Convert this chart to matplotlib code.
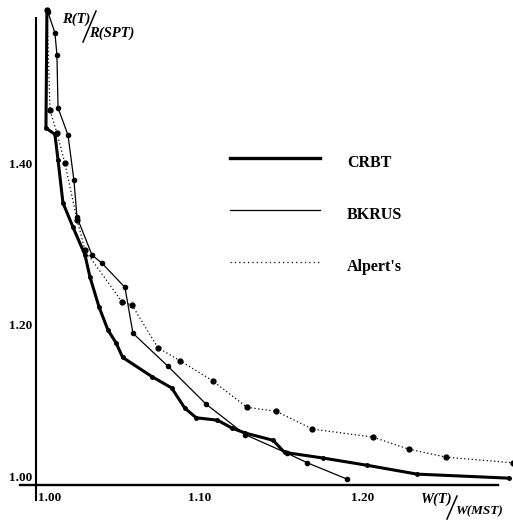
import matplotlib
matplotlib.use("Agg")
import matplotlib.pyplot as plt

# W(T)/W(MST) vs R(T)/R(SPT) for the three heuristics
crbt_x = [1.0067, 1.0061, 1.0116, 1.0135, 1.0165, 1.0226, 1.0300, 1.0330, 1.0385,
          1.0440, 1.0490, 1.0530, 1.0710, 1.0830, 1.0910, 1.0980, 1.1110, 1.1200,
          1.1280, 1.1450, 1.1520, 1.1755, 1.2024, 1.2330, 1.2890]
crbt_y = [1.593, 1.446, 1.438, 1.406, 1.353, 1.323, 1.288, 1.261, 1.224,
          1.195, 1.179, 1.161, 1.137, 1.123, 1.098, 1.086, 1.083, 1.073,
          1.067, 1.058, 1.043, 1.036, 1.027, 1.016, 1.011]

bkrus_x = [1.0073, 1.0116, 1.0128, 1.0135, 1.0196, 1.0232, 1.0251, 1.0343, 1.0404,
           1.0544, 1.0593, 1.0807, 1.1040, 1.1280, 1.1535, 1.1660, 1.1900]
bkrus_y = [1.590, 1.564, 1.537, 1.471, 1.437, 1.381, 1.335, 1.288, 1.278,
           1.248, 1.191, 1.150, 1.103, 1.065, 1.042, 1.030, 1.010]

alpert_x = [1.0067, 1.0086, 1.0128, 1.0177, 1.0251, 1.0300, 1.0526, 1.0587, 1.0746,
            1.0880, 1.1080, 1.1290, 1.1470, 1.1690, 1.2060, 1.2280, 1.2510, 1.2920]
alpert_y = [1.593, 1.468, 1.440, 1.402, 1.332, 1.294, 1.230, 1.226, 1.173,
            1.157, 1.132, 1.099, 1.094, 1.072, 1.062, 1.047, 1.037, 1.030]

labels = ["CRBT", "BKRUS", "Alpert's"]
xticks = [1.00, 1.10, 1.20]
yticks = [1.00, 1.20, 1.40]

serif = "Liberation Serif"
W, H = 513, 520

fig = plt.figure(figsize=(5.13, 5.20), dpi=100)
ax = fig.add_axes([0, 0, 1, 1])
ax.set_xlim(0.978, 1.2917)
ax.set_ylim(0.959, 1.605)

ax.plot(crbt_x, crbt_y, color="black", lw=2.2, marker="o", ms=2.5)
ax.plot(bkrus_x, bkrus_y, color="black", lw=0.9, marker="o", ms=3)
ax.plot(alpert_x, alpert_y, color="black", lw=0.9, ls=(0, (1, 2)), marker="o", ms=3.5)

# axes drawn as crossing lines
for s in ["top", "right"]:
    ax.spines[s].set_visible(False)
ax.spines["left"].set_position(("data", 1.0))
ax.spines["left"].set_bounds(0.984, 1.583)
ax.spines["left"].set_linewidth(1.5)
ax.spines["bottom"].set_position(("data", 1.002))
ax.spines["bottom"].set_bounds(0.990, 1.2826)
ax.spines["bottom"].set_linewidth(1.7)
ax.set_xticks([])
ax.set_yticks([])

tick_font = dict(family=serif, weight="bold", fontsize=9.5)
for i, v in enumerate(xticks):
    if i == 0:
        ax.annotate("%.2f" % v, xy=(v, 1.0), xytext=(1.5, -8), textcoords="offset points",
                    ha="left", va="center", **tick_font)
    else:
        ax.annotate("%.2f" % v, xy=(v, 1.0), xytext=(0, -8), textcoords="offset points",
                    ha="center", va="center", **tick_font)
for i, v in enumerate(yticks):
    dy = 6.5 if i == 0 else 0
    ax.annotate("%.2f" % v, xy=(1.0, v), xytext=(-2.5, dy), textcoords="offset points",
                ha="right", va="center", **tick_font)

# legend drawn by hand
leg_styles = [dict(lw=2.4, ls="-"), dict(lw=0.9, ls="-"), dict(lw=0.9, ls=(0, (1, 2.5)))]
leg_y = [158, 210, 262]
for lab, st, py in zip(labels, leg_styles, leg_y):
    ax.plot([230 / W, 320 / W], [1 - py / H] * 2, color="black",
            transform=ax.transAxes, **st)
    ax.text(347 / W, 1 - (py + 5) / H, lab, transform=ax.transAxes, ha="left",
            va="center", family=serif, weight="bold", fontsize=11.5)

# axis titles with a slanted fraction bar
lab_font = dict(family=serif, style="italic", weight="bold", fontsize=10.5)
ax.text(62 / W, 1 - 19 / H, "R(T)", transform=ax.transAxes, ha="left", va="center", **lab_font)
ax.plot([83 / W, 96 / W], [1 - 42 / H, 1 - 11 / H], color="black", lw=1.1,
        transform=ax.transAxes)
ax.text(89 / W, 1 - 33 / H, "R(SPT)", transform=ax.transAxes, ha="left", va="center", **lab_font)
ax.text(421 / W, 1 - 499 / H, "W(T)", transform=ax.transAxes, ha="left", va="center", **lab_font)
ax.plot([447 / W, 457 / W], [1 - 519 / H, 1 - 496 / H], color="black", lw=1.1,
        transform=ax.transAxes)
ax.text(455 / W, 1 - 511 / H, "W(MST)", transform=ax.transAxes, ha="left", va="center",
        family=serif, style="italic", weight="bold", fontsize=9.5)

fig.savefig("out.png", dpi=100)
